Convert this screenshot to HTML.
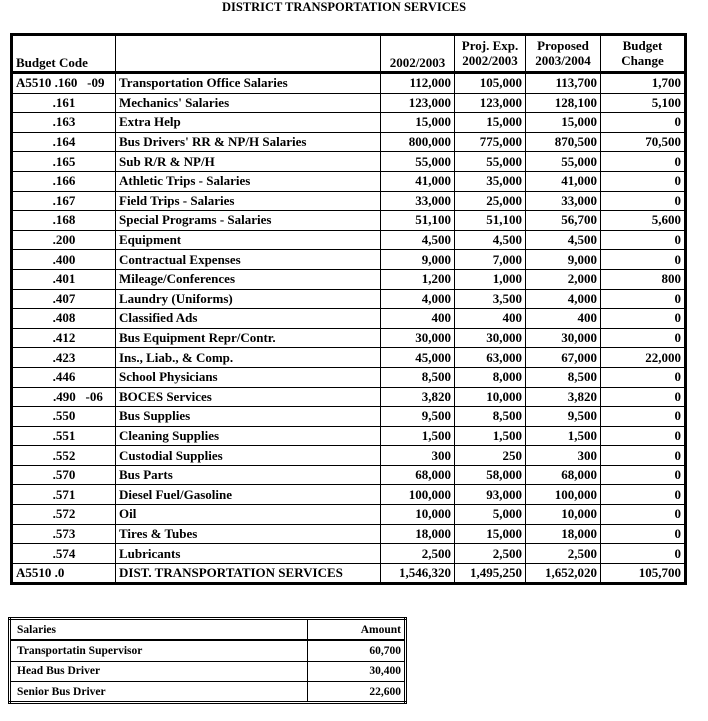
<!DOCTYPE html>
<html><head><meta charset="utf-8"><style>
body{margin:0;width:708px;height:721px;background:#fff;position:relative;font-family:"Liberation Serif",serif;font-weight:bold;font-size:13px;color:#000}
.t{position:absolute;left:0;top:0;width:688px;text-align:center;font-size:12.5px;line-height:14px}
table{position:absolute;border-collapse:collapse;table-layout:fixed}
td{border:1px solid #000;padding:0 3px;white-space:nowrap;overflow:hidden;line-height:12px}
#m{left:10px;top:33px;width:674px;border:3px solid #000}
#m td{height:18.6px;padding-top:0;padding-bottom:0}
#m tr.h td{height:33px;vertical-align:bottom;padding-bottom:2px;text-align:center}
#m tr.h{border-bottom:3px solid #000}
.r{text-align:right}
.c{text-align:center}
#s{left:8px;top:617px;width:396px;border:3px double #000;font-size:11.5px}
#s td{height:19.3px;padding:0 3px 0 6px}
#s tr:first-child{border-bottom:2px solid #000}
</style></head><body>
<div class="t">DISTRICT TRANSPORTATION SERVICES</div>
<table id="m">
<colgroup><col style="width:104px"><col style="width:265px"><col style="width:74px"><col style="width:71px"><col style="width:75px"><col style="width:85px"></colgroup>
<tr class="h"><td style="text-align:left">Budget Code</td><td></td><td class="r">2002/2003</td><td>Proj. Exp.<br><span style="line-height:17px">2002/2003</span></td><td>Proposed<br><span style="line-height:17px">2003/2004</span></td><td>Budget<br><span style="line-height:17px">Change</span></td></tr>
<tbody id="b"></tbody>
</table>
<table id="s">
<colgroup><col style="width:298px"><col style="width:98px"></colgroup>
<tr><td>Salaries</td><td class="r">Amount</td></tr>
<tr><td>Transportatin Supervisor</td><td class="r">60,700</td></tr>
<tr><td>Head Bus Driver</td><td class="r">30,400</td></tr>
<tr><td>Senior Bus Driver</td><td class="r">22,600</td></tr>
</table>
<script>
var d=[["A5510 .160&nbsp;&nbsp; -09","Transportation Office Salaries","112,000","105,000","113,700","1,700"],
[".161","Mechanics' Salaries","123,000","123,000","128,100","5,100"],
[".163","Extra Help","15,000","15,000","15,000","0"],
[".164","Bus Drivers' RR &amp; NP/H Salaries","800,000","775,000","870,500","70,500"],
[".165","Sub R/R &amp; NP/H","55,000","55,000","55,000","0"],
[".166","Athletic Trips - Salaries","41,000","35,000","41,000","0"],
[".167","Field Trips - Salaries","33,000","25,000","33,000","0"],
[".168","Special Programs - Salaries","51,100","51,100","56,700","5,600"],
[".200","Equipment","4,500","4,500","4,500","0"],
[".400","Contractual Expenses","9,000","7,000","9,000","0"],
[".401","Mileage/Conferences","1,200","1,000","2,000","800"],
[".407","Laundry (Uniforms)","4,000","3,500","4,000","0"],
[".408","Classified Ads","400","400","400","0"],
[".412","Bus Equipment Repr/Contr.","30,000","30,000","30,000","0"],
[".423","Ins., Liab., &amp; Comp.","45,000","63,000","67,000","22,000"],
[".446","School Physicians","8,500","8,000","8,500","0"],
[".490&nbsp;&nbsp; -06","BOCES Services","3,820","10,000","3,820","0"],
[".550","Bus Supplies","9,500","8,500","9,500","0"],
[".551","Cleaning Supplies","1,500","1,500","1,500","0"],
[".552","Custodial Supplies","300","250","300","0"],
[".570","Bus Parts","68,000","58,000","68,000","0"],
[".571","Diesel Fuel/Gasoline","100,000","93,000","100,000","0"],
[".572","Oil","10,000","5,000","10,000","0"],
[".573","Tires &amp; Tubes","18,000","15,000","18,000","0"],
[".574","Lubricants","2,500","2,500","2,500","0"],
["A5510 .0","DIST. TRANSPORTATION SERVICES","1,546,320","1,495,250","1,652,020","105,700"]];
var h="";d.forEach(function(r,i){var c=(i==0||i==d.length-1)?"":(r[0].indexOf("-06")>0?"c\" style=\"padding-left:40px;text-align:left":"c");
h+='<tr><td class="'+c+'">'+r[0]+'</td><td>'+r[1]+'</td><td class="r">'+r[2]+'</td><td class="r">'+r[3]+'</td><td class="r">'+r[4]+'</td><td class="r">'+r[5]+'</td></tr>';});
document.getElementById("b").innerHTML=h;
</script>
</body></html>
